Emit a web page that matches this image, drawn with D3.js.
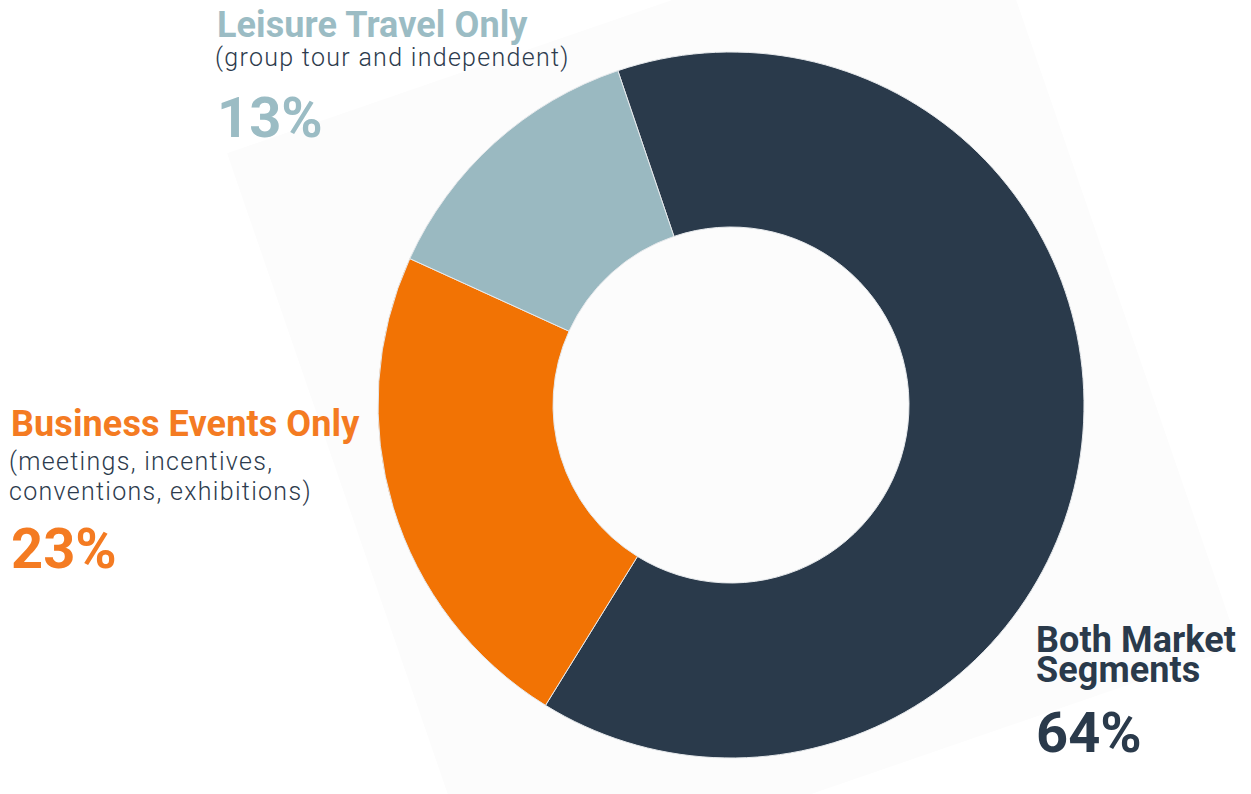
<!DOCTYPE html>
<html>
<head>
<meta charset="utf-8">
<script src="https://cdn.jsdelivr.net/npm/d3@7"></script>
<style>
  html, body { margin: 0; padding: 0; background: #ffffff; }
  svg { display: block; }
  .title { font-family: Roboto, "Noto Sans", sans-serif; font-weight: 700; font-size: 36px; letter-spacing: 0.1px; }
  .note { font-family: Roboto, "Noto Sans", sans-serif; font-weight: 300; font-size: 25px; letter-spacing: 1.3px; fill: #2d3b4d; }
  .pct { font-family: Roboto, "Noto Sans", sans-serif; font-weight: 700; font-size: 56px; }
</style>
</head>
<body>
<div id="chart"></div>
<script>
// Chart data
var categories = ["Both Market Segments", "Business Events Only", "Leisure Travel Only"];
var shareValues = [64, 23, 13];
var shareLabels = ["64%", "23%", "13%"];
var titleLines = [["Both Market", "Segments"], ["Business Events Only"], ["Leisure Travel Only"]];
var noteLines = [[], ["(meetings, incentives,", "conventions, exhibitions)"], ["(group tour and independent)"]];

var width = 1251;
var height = 794;

// Donut geometry
var cx = 731;
var cy = 405;
var outerR = 353;
var innerR = 178;
var startDeg = -18.7;

var sliceColors = d3.scaleOrdinal()
    .domain(categories)
    .range(["#2a3a4b", "#f27304", "#9ab9c1"]);

var textColors = d3.scaleOrdinal()
    .domain(categories)
    .range(["#2a3a4b", "#f47b22", "#9bbcc4"]);

var svg = d3.select("#chart")
    .append("svg")
    .attr("width", width)
    .attr("height", height);

// faint tilted square behind the donut
svg.append("rect")
    .attr("x", -398)
    .attr("y", -398)
    .attr("width", 796)
    .attr("height", 796)
    .attr("fill", "#fcfcfc")
    .attr("transform", `translate(733, 400) rotate(-19)`);

var table = categories.map(function(c, i) {
    return { name: c, value: shareValues[i], idx: i };
});

var pie = d3.pie()
    .sort(null)
    .value(function(d) { return d.value; })
    .startAngle(startDeg * Math.PI / 180)
    .endAngle(startDeg * Math.PI / 180 + 2 * Math.PI);

var arc = d3.arc()
    .innerRadius(innerR)
    .outerRadius(outerR);

var donut = svg.append("g")
    .attr("class", "donut")
    .attr("transform", `translate(${cx}, ${cy})`);

donut.selectAll("path")
    .data(pie(table))
    .enter()
    .append("path")
    .attr("d", arc)
    .attr("fill", function(d) { return sliceColors(d.data.name); })
    .attr("stroke", "#e6e9ec")
    .attr("stroke-width", 1);

// Label blocks: anchor x, title baseline, note baseline, pct baseline
var labelSpots = [
    { x: 1036, titleY: 652, noteY: 0, pctY: 752 },
    { x: 11, titleY: 436, noteY: 470, pctY: 568 },
    { x: 217, titleY: 37, noteY: 66, pctY: 137 }
];
var lineGap = 30;

var labels = svg.selectAll("g.label")
    .data(table)
    .enter()
    .append("g")
    .attr("class", "label");

labels.each(function(d) {
    var g = d3.select(this);
    var spot = labelSpots[d.idx];
    var color = textColors(d.name);

    // title (one text, lines as tspans)
    var title = g.append("text")
        .attr("class", "title")
        .attr("x", spot.x)
        .attr("y", spot.titleY)
        .attr("fill", color);
    titleLines[d.idx].forEach(function(line, k) {
        title.append("tspan")
            .attr("x", spot.x)
            .attr("dy", k === 0 ? 0 : lineGap)
            .text(line);
    });

    if (noteLines[d.idx].length) {
        var note = g.append("text")
            .attr("class", "note")
            .attr("x", spot.x - 2)
            .attr("y", spot.noteY);
        noteLines[d.idx].forEach(function(line, k) {
            note.append("tspan")
                .attr("x", spot.x - 2)
                .attr("dy", k === 0 ? 0 : lineGap)
                .text(line);
        });
    }

    g.append("text")
        .attr("class", "pct")
        .attr("x", spot.x)
        .attr("y", spot.pctY)
        .attr("fill", color)
        .text(shareLabels[d.idx]);
});
</script>
</body>
</html>
